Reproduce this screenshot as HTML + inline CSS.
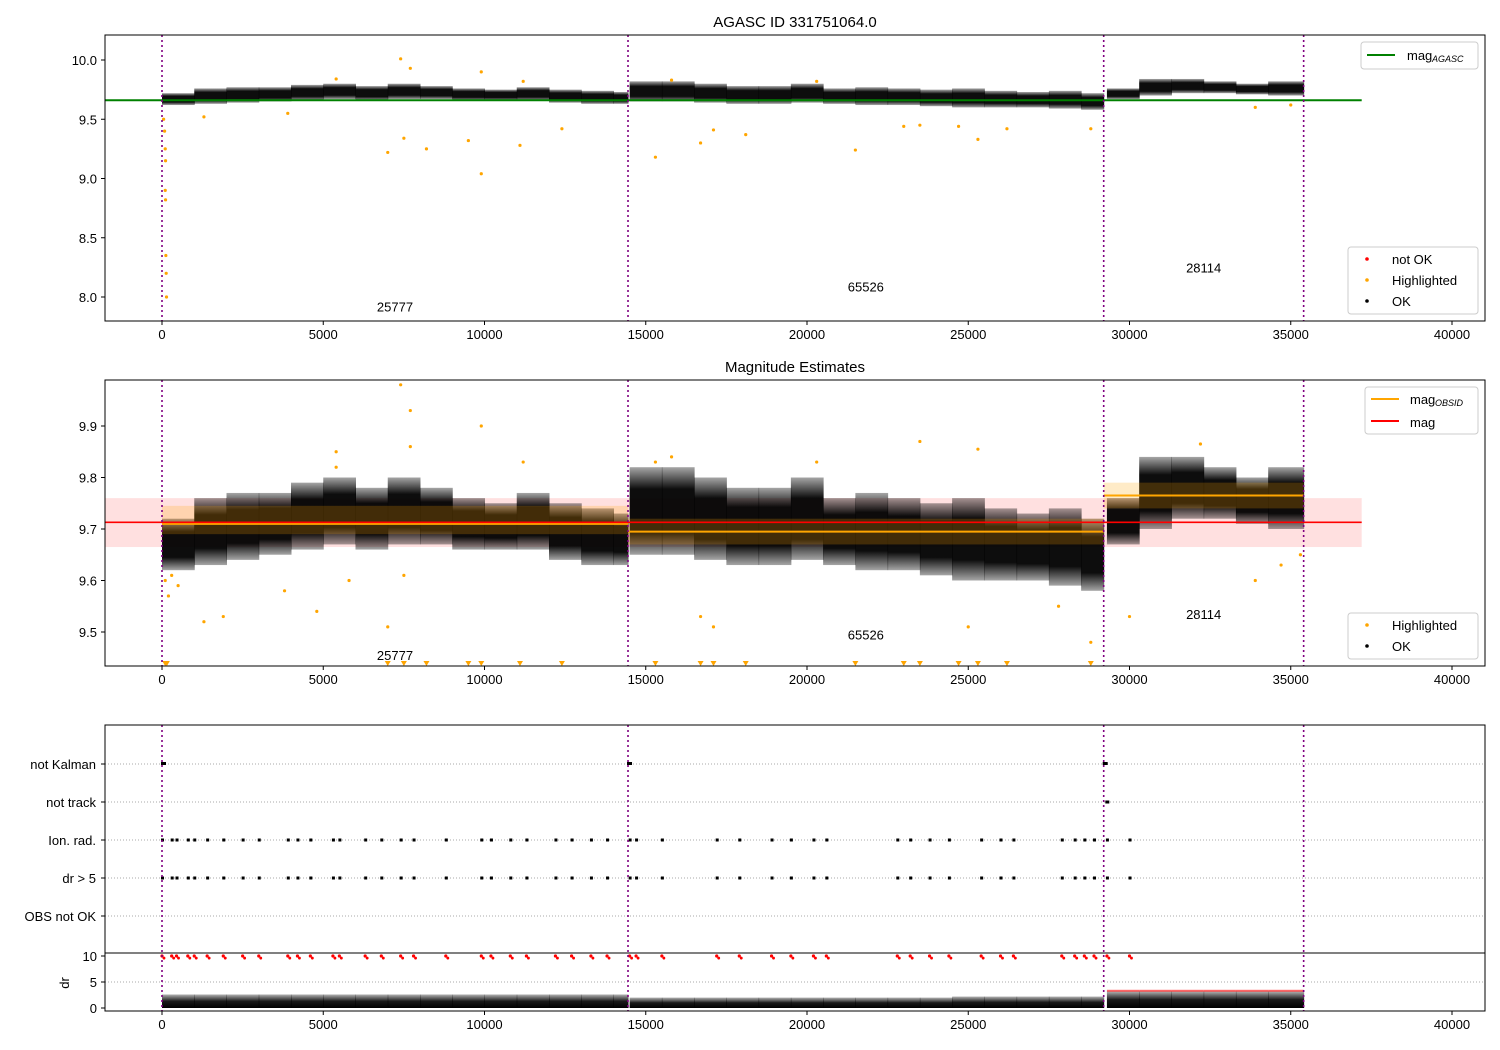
<!DOCTYPE html>
<html><head><meta charset="utf-8">
<style>
body{margin:0;background:#fff;}
svg{display:block;font-family:"Liberation Sans","DejaVu Sans",sans-serif;}
</style></head>
<body>
<svg id="chart" width="1500" height="1050" viewBox="0 0 1500 1050" xmlns="http://www.w3.org/2000/svg">
<defs>
<linearGradient id="bandGrad" x1="0" y1="0" x2="0" y2="1">
<stop offset="0" stop-color="#000" stop-opacity="0.35"/>
<stop offset="0.25" stop-color="#000" stop-opacity="0.95"/>
<stop offset="0.75" stop-color="#000" stop-opacity="0.95"/>
<stop offset="1" stop-color="#000" stop-opacity="0.35"/>
</linearGradient>
<linearGradient id="drGrad" x1="0" y1="0" x2="0" y2="1">
<stop offset="0" stop-color="#000" stop-opacity="0.3"/>
<stop offset="0.5" stop-color="#000" stop-opacity="0.9"/>
<stop offset="1" stop-color="#000" stop-opacity="1"/>
</linearGradient>
</defs>
<rect width="1500" height="1050" fill="#fff"/>
<g id="layer"></g>
</svg>
<script>
// ---- data ----
const binStart = [0,1000,2000,3000,4000,5000,6000,7000,8000,9000,10000,11000,12000,13000,14000,14500,15500,16500,17500,18500,19500,20500,21500,22500,23500,24500,25500,26500,27500,28500,29300,30300,31300,32300,33300,34300];
const binEnd   = [1000,2000,3000,4000,5000,6000,7000,8000,9000,10000,11000,12000,13000,14000,14450,15500,16500,17500,18500,19500,20500,21500,22500,23500,24500,25500,26500,27500,28500,29200,30300,31300,32300,33300,34300,35400];
const bandLow  = [9.62,9.63,9.64,9.65,9.66,9.67,9.66,9.67,9.67,9.66,9.66,9.66,9.64,9.63,9.63,9.65,9.65,9.64,9.63,9.63,9.64,9.63,9.62,9.62,9.61,9.60,9.60,9.60,9.59,9.58,9.67,9.70,9.72,9.72,9.71,9.70];
const bandHigh = [9.72,9.76,9.77,9.77,9.79,9.80,9.78,9.80,9.78,9.76,9.75,9.77,9.75,9.74,9.73,9.82,9.82,9.80,9.78,9.78,9.80,9.76,9.77,9.76,9.75,9.76,9.74,9.73,9.74,9.72,9.76,9.84,9.84,9.82,9.80,9.82];
const p1OutX = [50,80,100,110,100,110,120,130,140,7000,7500,8200,9500,9900,11100,12400,15300,16700,17100,18100,21500,23000,23500,24700,25300,26200,28800,7400,7700,9900,33900,35000,1300,3900,5400,11200,15800,20300];
const p1OutY = [9.5,9.4,9.25,9.15,8.9,8.82,8.35,8.2,8.0,9.22,9.34,9.25,9.32,9.04,9.28,9.42,9.18,9.3,9.41,9.37,9.24,9.44,9.45,9.44,9.33,9.42,9.42,10.01,9.93,9.9,9.6,9.62,9.52,9.55,9.84,9.82,9.83,9.82];
const p2OutX = [7400,7700,9900,23500,25300,32200,1300,1900,3800,4800,5800,7000,17100,16700,27800,28800,30000,33900,34700,35300,25000,7500,7700,5400,5400,11200,15300,15800,20300,100,200,300,500];
const p2OutY = [9.98,9.93,9.9,9.87,9.855,9.865,9.52,9.53,9.58,9.54,9.6,9.51,9.51,9.53,9.55,9.48,9.53,9.6,9.63,9.65,9.51,9.61,9.86,9.85,9.82,9.83,9.83,9.84,9.83,9.6,9.57,9.61,9.59];
const triX = [100,150,7000,7500,8200,9500,9900,11100,12400,15300,16700,17100,18100,21500,23000,23500,24700,25300,26200,28800];
const obsStart = [0,14450,29200];
const obsEnd = [14450,29200,35400];
const obsMag = [9.71,9.695,9.765];
const obsLow = [9.69,9.67,9.74];
const obsHigh = [9.745,9.72,9.79];
const obsCount = ["25777","65526","28114"];
const obsLabelY1 = [7.92,8.09,8.25];
const obsLabelY2 = [9.455,9.495,9.535];
const vlines = [0,14450,29200,35400];
const flagX = [0,300,450,800,1000,1400,1900,2500,3000,3900,4200,4600,5300,5500,6300,6800,7400,7800,8800,9900,10200,10800,11300,12200,12700,13300,13800,14500,14700,15500,17200,17900,18900,19500,20200,20600,22800,23200,23800,24400,25400,26000,26400,27900,28300,28600,28900,29300,30000];
const categories = ["not Kalman","not track","Ion. rad.","dr > 5","OBS not OK"];
const xTicks = [0,5000,10000,15000,20000,25000,30000,35000,40000];
const y1Ticks = [10.0,9.5,9.0,8.5,8.0];
const y2Ticks = [9.9,9.8,9.7,9.6,9.5];
const drTicks = [10,5,0];
const drHigh = [2.6,2.6,2.6,2.6,2.6,2.6,2.6,2.6,2.6,2.6,2.6,2.6,2.6,2.6,2.6,2.0,2.0,2.0,2.0,2.0,2.0,2.0,2.0,2.0,2.0,2.2,2.2,2.2,2.2,2.2,3.2,3.2,3.2,3.2,3.2,3.2];
const magAgasc = 9.66, magMean = 9.713, magLow = 9.665, magHigh = 9.76;

// ---- axes ----
const L=105,R=1485;
const xs = v => 162 + v*0.03225;
const y1 = v => 60 + (10-v)*118.5;
const y2 = v => 426 + (9.9-v)*515;
const yc = i => 764 + i*38;
const yd = v => 1008 - v*5.2;
const NS="http://www.w3.org/2000/svg";
const layer=document.getElementById('layer');
function el(t,a,p){const e=document.createElementNS(NS,t);for(const k in a)e.setAttribute(k,a[k]);(p||layer).appendChild(e);return e;}
function txt(s,a,p){const e=el('text',a,p);e.textContent=s;return e;}

function xAxis(top,bot,g){
  xTicks.forEach(v=>{
    el('line',{x1:xs(v),x2:xs(v),y1:bot,y2:bot+4,stroke:'#000'},g);
    const t=txt(String(v),{x:xs(v),y:bot+18,'font-size':13,'text-anchor':'middle'},g);
    
    
  });
}
function frame(top,bot,name){
  const r=el('rect',{x:L,y:top,width:R-L,height:bot-top,fill:'none',stroke:'#000','stroke-width':1});
  
  
}
function vl(top,bot,g){
  vlines.forEach(v=>el('line',{x1:xs(v),x2:xs(v),y1:top,y2:bot,stroke:'#800080','stroke-width':1.6,'stroke-dasharray':'2,3'},g));
}
function band(g,yf){
  binStart.forEach((s,i)=>{
    const b=el('rect',{x:xs(s),y:yf(bandHigh[i]),width:xs(binEnd[i])-xs(s)+0.5,height:yf(bandLow[i])-yf(bandHigh[i]),fill:'url(#bandGrad)'},g);
    
    
  });
}

// ===== Panel 1 =====
const g1=el('g',{});


el('clipPath',{id:'c1'},g1);
el('rect',{x:L,y:35,width:R-L,height:286},document.getElementById('c1'));
const g1c=el('g',{'clip-path':'url(#c1)'},g1);
const tl=txt('AGASC ID 331751064.0',{x:795,y:27,'font-size':15,'text-anchor':'middle'},g1);


band(g1c,y1);
el('line',{x1:L,x2:xs(37200),y1:y1(magAgasc),y2:y1(magAgasc),stroke:'#008000','stroke-width':2},g1c);
p1OutX.forEach((x,i)=>{
  const c=el('circle',{cx:xs(x),cy:y1(p1OutY[i]),r:1.6,fill:'orange'},g1c);
  
  
});
vl(35,321,g1c);
obsCount.forEach((s,i)=>txt(s,{x:xs((obsStart[i]+obsEnd[i])/2),y:y1(obsLabelY1[i])+5,'font-size':13,'text-anchor':'middle'},g1));
y1Ticks.forEach(v=>{el('line',{x1:L-4,x2:L,y1:y1(v),y2:y1(v),stroke:'#000'},g1);txt(v.toFixed(1),{x:L-8,y:y1(v)+5,'font-size':13,'text-anchor':'end'},g1);});
xAxis(35,321,g1);
frame(35,321,'agasc-axes');
el('rect',{x:1361,y:42,width:117,height:27,fill:'#fff',stroke:'#ccc',rx:3},g1);
el('line',{x1:1367,x2:1395,y1:55,y2:55,stroke:'#008000','stroke-width':2},g1);
txt('mag',{x:1407,y:60,'font-size':13},g1);txt('AGASC',{x:1432,y:62,'font-size':9,'font-style':'italic'},g1);
el('rect',{x:1348,y:247,width:130,height:67,fill:'#fff',stroke:'#ccc',rx:3},g1);
[['red','not OK',259],['orange','Highlighted',280],['#000','OK',301]].forEach(a=>{el('circle',{cx:1367,cy:a[2],r:1.8,fill:a[0]},g1);txt(a[1],{x:1392,y:a[2]+5,'font-size':13},g1);});

// ===== Panel 2 =====
const g2=el('g',{});


el('clipPath',{id:'c2'},g2);
el('rect',{x:L,y:380,width:R-L,height:286},document.getElementById('c2'));
const g2c=el('g',{'clip-path':'url(#c2)'},g2);
txt('Magnitude Estimates',{x:795,y:372,'font-size':15,'text-anchor':'middle'},g2);
el('rect',{x:L,y:y2(magHigh),width:xs(37200)-L,height:y2(magLow)-y2(magHigh),fill:'rgba(255,0,0,0.12)'},g2c);
band(g2c,y2);
obsStart.forEach((s,i)=>{
  el('rect',{x:xs(s),y:y2(obsHigh[i]),width:xs(obsEnd[i])-xs(s),height:y2(obsLow[i])-y2(obsHigh[i]),fill:'rgba(255,165,0,0.22)'},g2c);
  el('line',{x1:xs(s),x2:xs(obsEnd[i]),y1:y2(obsMag[i]),y2:y2(obsMag[i]),stroke:'orange','stroke-width':2},g2c);
});
el('line',{x1:L,x2:xs(37200),y1:y2(magMean),y2:y2(magMean),stroke:'red','stroke-width':1.6},g2c);
p2OutX.forEach((x,i)=>{
  const c=el('circle',{cx:xs(x),cy:y2(p2OutY[i]),r:1.6,fill:'orange'},g2c);
  
  
});
triX.forEach(x=>{const X=xs(x);el('polygon',{points:`${X-3},661 ${X+3},661 ${X},666`,fill:'orange'},g2c);});
vl(380,666,g2c);
obsCount.forEach((s,i)=>txt(s,{x:xs((obsStart[i]+obsEnd[i])/2),y:y2(obsLabelY2[i])+5,'font-size':13,'text-anchor':'middle'},g2));
y2Ticks.forEach(v=>{el('line',{x1:L-4,x2:L,y1:y2(v),y2:y2(v),stroke:'#000'},g2);txt(v.toFixed(1),{x:L-8,y:y2(v)+5,'font-size':13,'text-anchor':'end'},g2);});
xAxis(380,666,g2);
frame(380,666,'magnitude-axes');
el('rect',{x:1365,y:387,width:113,height:47,fill:'#fff',stroke:'#ccc',rx:3},g2);
el('line',{x1:1371,x2:1399,y1:399,y2:399,stroke:'orange','stroke-width':2},g2);
txt('mag',{x:1410,y:404,'font-size':13},g2);txt('OBSID',{x:1435,y:406,'font-size':9,'font-style':'italic'},g2);
el('line',{x1:1371,x2:1399,y1:421,y2:421,stroke:'red','stroke-width':2},g2);
txt('mag',{x:1410,y:427,'font-size':13},g2);
el('rect',{x:1348,y:613,width:130,height:46,fill:'#fff',stroke:'#ccc',rx:3},g2);
[['orange','Highlighted',625],['#000','OK',646]].forEach(a=>{el('circle',{cx:1367,cy:a[2],r:1.8,fill:a[0]},g2);txt(a[1],{x:1392,y:a[2]+5,'font-size':13},g2);});

// ===== Panel 3 flags =====
const g3=el('g',{});


categories.forEach((c,i)=>{
  el('line',{x1:L,x2:R,y1:yc(i),y2:yc(i),stroke:'#aaa','stroke-dasharray':'1,2'},g3);
  el('line',{x1:L-4,x2:L,y1:yc(i),y2:yc(i),stroke:'#000'},g3);
  txt(c,{x:L-9,y:yc(i)+5,'font-size':13,'text-anchor':'end'},g3);
});
[0,14450,29200].forEach(x=>el('rect',{x:xs(x)-1,y:yc(0)-2,width:5,height:3,fill:'#000'},g3));
el('rect',{x:xs(29250),y:yc(1)-1.5,width:4,height:3,fill:'#000'},g3);
flagX.forEach(x=>{
  [2,3].forEach(i=>{const r=el('rect',{x:xs(x)-1,y:yc(i)-1.5,width:3,height:3,fill:'#000'},g3);
    
    });
  el('circle',{cx:xs(x),cy:yd(10),r:1.6,fill:'red'},g3);
  el('circle',{cx:xs(x)+2,cy:yd(9.6),r:1.4,fill:'red'},g3);
});
el('line',{x1:L,x2:R,y1:yd(5),y2:yd(5),stroke:'#aaa','stroke-dasharray':'1,2'},g3);
binStart.forEach((s,i)=>{
  el('rect',{x:xs(s),y:yd(drHigh[i]),width:xs(binEnd[i])-xs(s)+0.5,height:yd(0)-yd(drHigh[i]),fill:'url(#drGrad)'},g3);
  if(s>=29300) el('rect',{x:xs(s),y:yd(drHigh[i]+0.3),width:xs(binEnd[i])-xs(s),height:2,fill:'rgba(255,0,0,0.6)'},g3);
});
drTicks.forEach(v=>{el('line',{x1:L-4,x2:L,y1:yd(v),y2:yd(v),stroke:'#000'},g3);txt(String(v),{x:L-8,y:yd(v)+5,'font-size':13,'text-anchor':'end'},g3);});
const dl=txt('dr',{x:0,y:0,'font-size':13,'text-anchor':'middle',transform:'translate(69,983) rotate(-90)'},g3);


vl(725,1011,g3);
xAxis(953,1011,g3);
frame(725,953,'flags-axes');
frame(953,1011,'dr-axes');
</script>
</body></html>
